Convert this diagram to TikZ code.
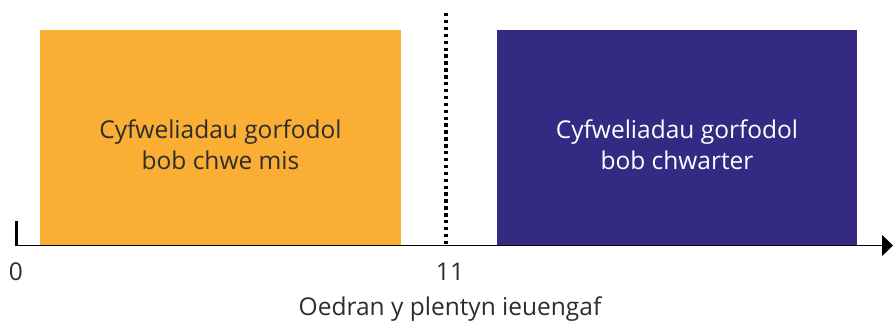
\documentclass[tikz,border=0pt]{standalone}
\usepackage{fontspec}
\setmainfont{Open Sans}
\usetikzlibrary{arrows.meta}
\definecolor{orangebox}{RGB}{250,174,51}
\definecolor{purplebox}{RGB}{52,42,132}
\definecolor{txt}{RGB}{45,45,45}
\begin{document}
\begin{tikzpicture}[x=1pt,y=-1pt,
  boxtext/.style={align=center, font=\fontsize{24.5}{31}\selectfont, text=#1},
  lbl/.style={font=\fontsize{24.5}{28}\selectfont, text=txt}]
\useasboundingbox (0,0) rectangle (893,325);
\fill[orangebox] (40,30) rectangle (401,246);
\fill[purplebox] (497,30) rectangle (857,246);
\node[boxtext=txt] (ta) at (220.5,145) {Cyfweliadau gorfodol\\bob chwe mis};
\node[boxtext=white] (tb) at (677,145) {Cyfweliadau gorfodol\\bob chwarter};
\coordinate (axs) at (15,245.5);
\coordinate (axe) at (893,245.5);
\draw[line width=1.3pt, -{Triangle[length=11pt,width=21pt]}] (axs) -- (axe);
\draw[line width=3pt] (16,221) -- (16,245.5);
\draw[line width=3.4pt, dash pattern=on 3.4pt off 3.5pt] (446,13) -- (446,244);
\node[lbl] (z) at (16,272) {0};
\node[lbl] (e) at (450,272) {11};
\node[lbl] (ax) at (450,309) {Oedran y plentyn ieuengaf};
\end{tikzpicture}
\end{document}
